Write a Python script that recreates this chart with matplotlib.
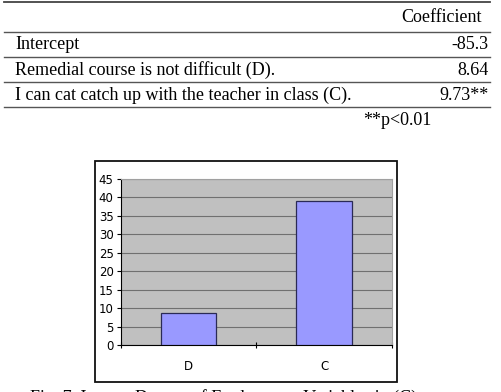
import matplotlib
matplotlib.use("Agg")
import matplotlib.pyplot as plt

W, H = 501, 392

row_labels = ["Intercept",
              "Remedial course is not difficult (D).",
              "I can cat catch up with the teacher in class (C)."]
row_values = ["-85.3", "8.64", "9.73**"]
col_header = "Coefficient"
note = "**p<0.01"

categories = ["D", "C"]
impact = [8.6, 39.0]
yticks = [0, 5, 10, 15, 20, 25, 30, 35, 40, 45]
caption = "Fig. 7. Impact Degree of Explanatory Variables in (C)"

fig = plt.figure(figsize=(W / 100, H / 100), dpi=100)
serif = ["Liberation Serif", "DejaVu Serif"]
fs = 13

# overlay in pixel coords for the table and the frame
ov = fig.add_axes([0, 0, 1, 1])
ov.set_xlim(0, W)
ov.set_ylim(H, 0)
ov.axis("off")

ov.plot([4, 490], [2, 2], color="#444444", lw=1.3)
for y in [32, 57, 82, 107]:
    ov.plot([4, 490], [y, y], color="#555555", lw=1.0)

ov.text(482, 17.5, col_header, ha="right", va="center", fontsize=fs, family=serif)
for i, (lab, val) in enumerate(zip(row_labels, row_values)):
    y = 44.5 + i * 25.5
    ov.text(15, y, lab, ha="left", va="center", fontsize=fs, family=serif)
    ov.text(489, y, val, ha="right", va="center", fontsize=fs, family=serif)
ov.text(432, 120.5, note, ha="right", va="center", fontsize=fs, family=serif)

# chart frame
ov.add_patch(plt.Rectangle((95.5, 160.5), 302, 221.5, fill=False,
                           edgecolor="#111111", lw=1.3))
ov.text(30, 398, caption, ha="left", va="center", fontsize=fs, family=serif)

# bar chart
left, right, top, bottom = 120.5, 392, 179, 345
ax = fig.add_axes([left / W, 1 - bottom / H, (right - left) / W, (bottom - top) / H])
ax.set_facecolor("#c0c0c0")
ax.bar(range(len(categories)), impact, width=0.41, color="#9999ff",
       edgecolor="#2a2a55", linewidth=0.9, zorder=3)
ax.set_xlim(-0.5, len(categories) - 0.5)
ax.set_ylim(0, 45)
ax.set_yticks(yticks)
ax.yaxis.grid(True, color="#707070", lw=0.8, zorder=1)
ax.set_axisbelow(True)

sans = ["Liberation Sans Narrow", "DejaVu Sans"]
ax.tick_params(axis="y", direction="out", length=3, width=0.8, pad=2,
               labelsize=8.5)
for t in ax.get_yticklabels():
    t.set_family(sans)
ax.set_xticks([-0.5, 0.5, 1.5])
ax.set_xticklabels([])
ax.tick_params(axis="x", which="major", direction="inout", length=5, width=0.8)
ax.set_xticks(range(len(categories)), minor=True)
ax.set_xticklabels(categories, minor=True, fontsize=8.5, family=sans)
ax.tick_params(axis="x", which="minor", length=0, pad=11)

ax.spines["left"].set_color("black")
ax.spines["bottom"].set_color("black")
ax.spines["top"].set_color("#a0a0a0")
ax.spines["right"].set_color("#a0a0a0")

fig.savefig("out.png", dpi=100)
